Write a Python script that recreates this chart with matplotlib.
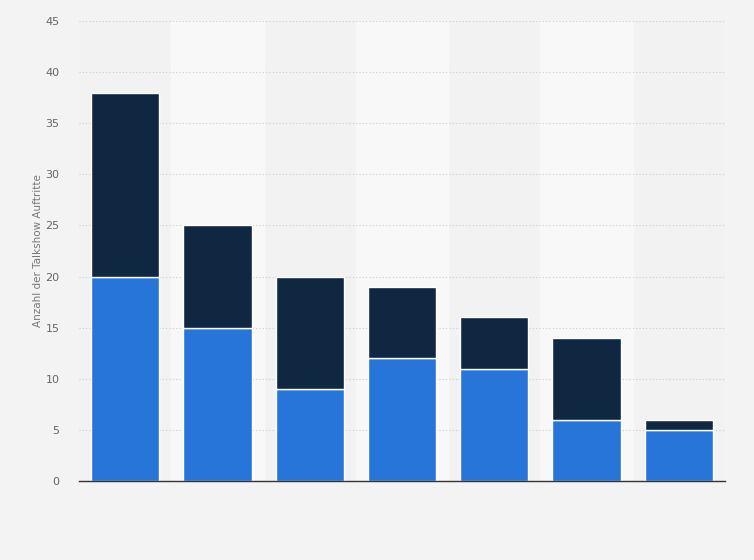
import numpy as np
import matplotlib.pyplot as plt

# Talkshow-Auftritte, unterer und oberer Anteil je Balken
lower = [20, 15, 9, 12, 11, 6, 5]
upper = [18, 10, 11, 7, 5, 8, 1]
yticks = [0, 5, 10, 15, 20, 25, 30, 35, 40, 45]

blue = '#2775d9'
navy = '#0f2741'

fig = plt.figure(figsize=(7.54, 5.6), dpi=100)
fig.patch.set_facecolor('#f3f3f3')
ax = fig.add_axes([0.1048, 0.1411, 0.8567, 0.8214])
ax.set_facecolor('#f2f2f2')

x = np.arange(len(lower))
for i in x:
    if i % 2 == 1:
        ax.axvspan(i - 0.5, i + 0.5, color='#f8f8f8', zorder=0)

ax.bar(x, lower, width=0.74, color=blue, edgecolor='white', linewidth=1, zorder=3)
ax.bar(x, upper, bottom=lower, width=0.74, color=navy, edgecolor='white',
       linewidth=1, zorder=3)

ax.set_xlim(-0.5, len(lower) - 0.5)
ax.set_ylim(0, 45)
ax.set_yticks(yticks)
ax.set_xticks([])
ax.grid(axis='y', color='#cccccc', linestyle=(0, (1, 2)), linewidth=0.8, zorder=1)
ax.tick_params(axis='y', length=0, labelsize=8, colors='#666666', pad=14)
for s in ['top', 'right', 'left']:
    ax.spines[s].set_visible(False)
ax.spines['bottom'].set_color('#333333')
ax.spines['bottom'].set_linewidth(1)
ax.spines['bottom'].set_zorder(4)

ax.set_ylabel('Anzahl der Talkshow Auftritte', fontsize=7.5, color='#777777', labelpad=2)

plt.savefig('out.png', dpi=100, facecolor=fig.get_facecolor())
